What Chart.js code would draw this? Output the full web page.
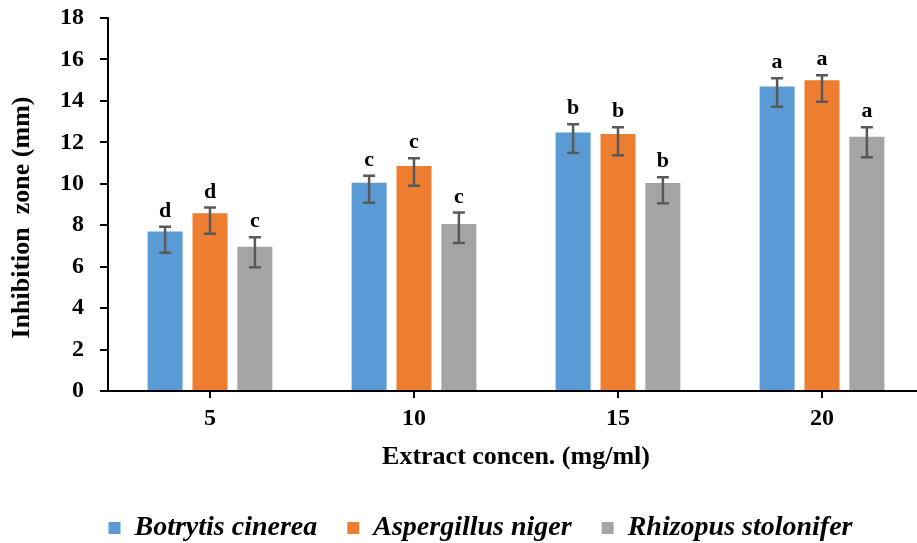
<!DOCTYPE html>
<html>
<head>
<meta charset="utf-8">
<title>Inhibition zone by extract concentration</title>
<script src="https://cdn.jsdelivr.net/npm/chart.js@4.4.1/dist/chart.umd.min.js"></script>
<style>
  html, body { margin: 0; padding: 0; background: #ffffff; overflow: hidden; }
  #wrap { width: 917px; height: 543px; overflow: hidden; }
  canvas { display: block; }
</style>
</head>
<body>
<div id="wrap"><canvas id="chart" width="924" height="543"></canvas></div>
<script>
// Extract concentration (mg/ml)
const concentrations = ['5', '10', '15', '20'];

// Mean inhibition zone (mm) per fungus
const botrytis    = [7.70, 10.05, 12.47, 14.69];
const aspergillus = [8.58, 10.86, 12.40, 14.99];
const rhizopus    = [6.96, 8.06, 10.04, 12.27];

// Error bar ends (upper / lower), mm
const botrytisHigh    = [7.93, 10.39, 12.87, 15.09];
const botrytisLow     = [6.67, 9.09, 11.49, 13.72];
const aspergillusHigh = [8.85, 11.23, 12.73, 15.24];
const aspergillusLow  = [7.59, 9.91, 11.38, 13.96];
const rhizopusHigh    = [7.42, 8.61, 10.31, 12.73];
const rhizopusLow     = [5.97, 7.14, 9.06, 11.28];

// Significance letters above each bar
const botrytisLetters    = ['d', 'c', 'b', 'a'];
const aspergillusLetters = ['d', 'c', 'b', 'a'];
const rhizopusLetters    = ['c', 'c', 'b', 'a'];

// Y axis ticks
const yTicks = [0, 2, 4, 6, 8, 10, 12, 14, 16, 18];

const yTitle = 'Inhibition  zone (mm)';
const xTitle = 'Extract concen. (mg/ml)';

const SERIF = "'Liberation Serif', 'Times New Roman', serif";

// Error bars and letter labels, drawn over the bars
const errorBarPlugin = {
  id: 'errorBars',
  afterDatasetsDraw(chart) {
    const ctx = chart.ctx;
    const yScale = chart.scales.y;
    chart.data.datasets.forEach((ds, di) => {
      const meta = chart.getDatasetMeta(di);
      if (meta.hidden) return;
      meta.data.forEach((bar, i) => {
        const x = bar.x;
        const yHi = yScale.getPixelForValue(ds.errHigh[i]);
        const yLo = yScale.getPixelForValue(ds.errLow[i]);
        ctx.save();
        ctx.strokeStyle = '#595959';
        ctx.lineWidth = 2.5;
        ctx.beginPath();
        ctx.moveTo(x, yHi); ctx.lineTo(x, yLo);
        ctx.moveTo(x - 6, yHi); ctx.lineTo(x + 6, yHi);
        ctx.moveTo(x - 6, yLo); ctx.lineTo(x + 6, yLo);
        ctx.stroke();
        ctx.fillStyle = '#000000';
        ctx.font = 'bold 22px ' + SERIF;
        ctx.textAlign = 'center';
        ctx.textBaseline = 'alphabetic';
        ctx.fillText(ds.letters[i], x, yHi - 10);
        ctx.restore();
      });
    });
  }
};

// Rotated y-axis title, placed left of the tick labels
const yTitlePlugin = {
  id: 'yAxisTitle',
  afterDraw(chart) {
    const ctx = chart.ctx;
    const area = chart.chartArea;
    ctx.save();
    ctx.translate(22, (area.top + area.bottom) / 2 + 13);
    ctx.rotate(-Math.PI / 2);
    ctx.font = 'bold 26px ' + SERIF;
    ctx.fillStyle = '#000000';
    ctx.textAlign = 'center';
    ctx.textBaseline = 'middle';
    ctx.fillText(yTitle, 0, 0);
    ctx.restore();
  }
};

new Chart(document.getElementById('chart'), {
  type: 'bar',
  data: {
    labels: concentrations,
    datasets: [
      { label: 'Botrytis cinerea', data: botrytis, backgroundColor: '#5B9BD5', borderWidth: 0,
        errHigh: botrytisHigh, errLow: botrytisLow, letters: botrytisLetters },
      { label: 'Aspergillus niger', data: aspergillus, backgroundColor: '#ED7D31', borderWidth: 0,
        errHigh: aspergillusHigh, errLow: aspergillusLow, letters: aspergillusLetters },
      { label: 'Rhizopus stolonifer', data: rhizopus, backgroundColor: '#A5A5A5', borderWidth: 0,
        errHigh: rhizopusHigh, errLow: rhizopusLow, letters: rhizopusLetters }
    ]
  },
  options: {
    responsive: false,
    animation: false,
    devicePixelRatio: 1,
    categoryPercentage: 0.66,
    barPercentage: 0.78,
    layout: { padding: { left: 37, right: 0, top: 18, bottom: -9 } },
    plugins: {
      tooltip: { enabled: false },
      legend: {
        position: 'bottom',
        labels: {
          boxWidth: 12,
          boxHeight: 12,
          padding: 30,
          color: '#000000',
          font: { family: SERIF, size: 28, style: 'italic', weight: 'bold' }
        }
      }
    },
    scales: {
      x: {
        offset: true,
        grid: { display: true, drawOnChartArea: false, drawTicks: true, tickLength: 7,
                offset: false, color: '#000000', lineWidth: 2 },
        border: { display: true, color: '#000000', width: 2 },
        ticks: { color: '#000000', padding: 6,
                 font: { family: SERIF, size: 24, weight: 'bold' } },
        title: { display: true, text: xTitle, color: '#000000',
                 padding: { top: 0, bottom: 11 },
                 font: { family: SERIF, size: 26, weight: 'bold' } },
        afterFit(scale) { scale.height = 93; }
      },
      y: {
        min: 0,
        max: 18,
        afterBuildTicks(scale) { scale.ticks = yTicks.map(v => ({ value: v })); },
        grid: { display: true, drawOnChartArea: false, drawTicks: true, tickLength: 8,
                color: '#000000', lineWidth: 2 },
        border: { display: true, color: '#000000', width: 2 },
        ticks: { color: '#000000', padding: 16,
                 font: { family: SERIF, size: 24, weight: 'bold' } },
        title: { display: false },
        afterFit(scale) {
          scale.width = 71;
          scale.paddingTop = 0;
          scale.paddingBottom = 0;
        }
      }
    }
  },
  plugins: [errorBarPlugin, yTitlePlugin]
});
</script>
</body>
</html>
